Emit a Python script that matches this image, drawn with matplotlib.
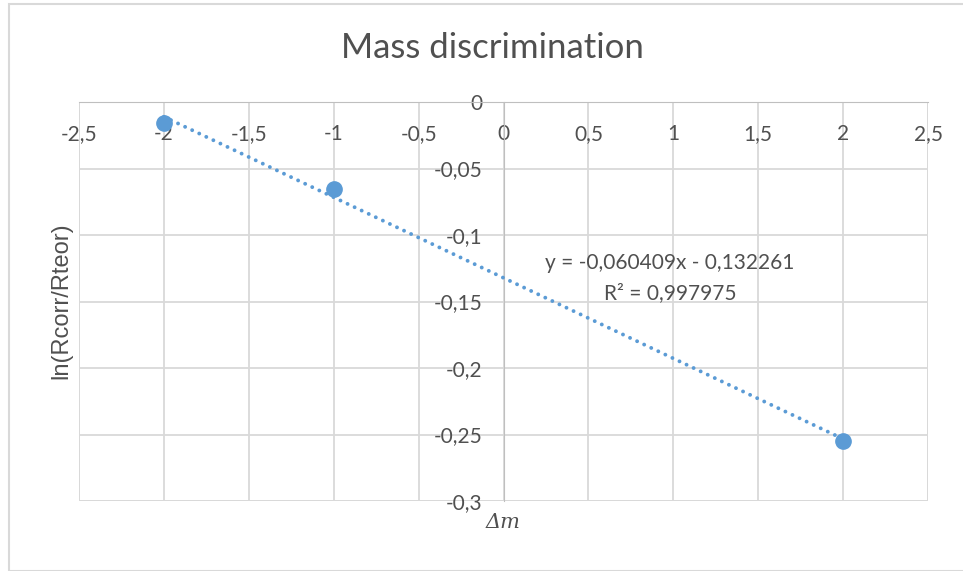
import numpy as np
import matplotlib.pyplot as plt
from matplotlib.patches import Rectangle

# data
delta_m = [-2, -1, 2]
ln_ratio = [-0.0158, -0.0654, -0.2549]

x_ticks = [-2.5, -2, -1.5, -1, -0.5, 0, 0.5, 1, 1.5, 2, 2.5]
y_ticks = [0, -0.05, -0.1, -0.15, -0.2, -0.25, -0.3]

eq_text = "y = -0,060409x - 0,132261"
r2_text = "R² = 0,997975"

blue = "#5B9BD5"
grid_c = "#D9D9D9"
txt_c = "#505050"


def comma(v):
    s = f"{v:g}".replace(".", ",")
    return s


W, H = 963, 571
fig = plt.figure(figsize=(W / 100, H / 100), dpi=100)
fig.patch.set_facecolor("white")

ax = fig.add_axes([79 / W, 1 - 501 / H, (928 - 79) / W, (501 - 102) / H])
ax.set_xlim(-2.5, 2.5)
ax.set_ylim(-0.3, 0)

# axes cross at zero, like Excel
ax.spines["left"].set_position(("data", 0))
ax.spines["bottom"].set_position(("data", 0))
ax.spines["left"].set_color("#BFBFBF")
ax.spines["bottom"].set_color("#BFBFBF")
ax.spines["top"].set_visible(False)
ax.spines["right"].set_visible(False)
ax.add_patch(Rectangle((0, 0), 1, 1, transform=ax.transAxes, fill=False,
                       ec=grid_c, lw=1.3, zorder=0.5))

ax.set_xticks(x_ticks, [comma(v) for v in x_ticks])
ax.set_yticks(y_ticks, [comma(v) for v in y_ticks])
ax.tick_params(axis="x", length=0, pad=16, labelsize=15, labelcolor=txt_c)
ax.tick_params(axis="y", length=0, pad=15, labelsize=15, labelcolor=txt_c)
for lab in ax.get_xticklabels() + ax.get_yticklabels():
    lab.set_fontfamily("Lato")
ax.grid(True, color=grid_c, lw=1.3)
ax.set_axisbelow(True)

# points + linear trendline
ax.plot(delta_m, ln_ratio, "o", ms=11, color=blue, zorder=4, clip_on=False)
k, b = np.polyfit(delta_m, ln_ratio, 1)
xs = np.array([min(delta_m), max(delta_m)])
ax.plot(xs, k * xs + b, color=blue, lw=2.8, linestyle=(0, (0.01, 2.0)),
        dash_capstyle="round", zorder=3)

ax.text(0.98, -0.121, eq_text, ha="center", va="center", fontsize=15,
        family="Lato", color=txt_c)
ax.text(0.98, -0.1436, r2_text, ha="center", va="center", fontsize=15,
        family="Lato", color=txt_c)

# titles
fig.text(492 / W, 1 - 48 / H, "Mass discrimination", ha="center", va="center",
         fontsize=25, family="Lato", color=txt_c)
fig.text(61 / W, 1 - 301 / H, "ln(Rcorr/Rteor)", rotation=90, ha="center",
         va="center", fontsize=17, family="Liberation Sans", color=txt_c)
fig.text(503 / W, 1 - 523 / H, "Δm", ha="center", va="center", fontsize=15,
         family="DejaVu Serif", style="italic", color=txt_c)

# outer chart border
fig.patches.append(Rectangle((9 / W, 0.5 / H), 1.02 - 9 / W, 1 - 4.5 / H,
                             transform=fig.transFigure, fill=False,
                             ec=grid_c, lw=1.5))

fig.savefig("out.png", dpi=100, facecolor="white")
